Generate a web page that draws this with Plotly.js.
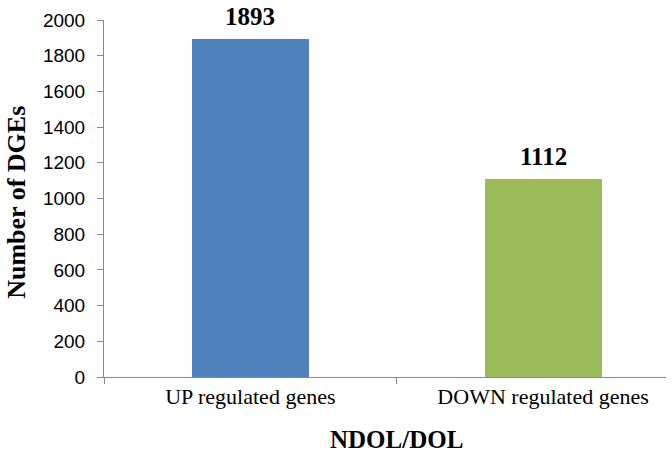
<!DOCTYPE html>
<html>
<head>
<meta charset="utf-8">
<script src="https://cdn.plot.ly/plotly-3.0.1.min.js"></script>
<style>html,body{margin:0;padding:0;background:#fff;}#chart{width:672px;height:455px;}</style>
</head>
<body>
<div id="chart"></div>
<script>
const categories = ["UP regulated genes", "DOWN regulated genes"];
const values = [1893, 1112];
const barColors = ["#4F81BD", "#9BBB59"];
const yTickValues = [0, 200, 400, 600, 800, 1000, 1200, 1400, 1600, 1800, 2000];
const xTitle = "NDOL/DOL";
const yTitle = "Number of DGEs";

const serif = "'Liberation Serif', 'Times New Roman', serif";
const sans = "'Liberation Sans', Arial, sans-serif";
const axisGrey = "#898989";

const trace = {
  type: "bar",
  x: categories,
  y: values,
  width: 0.4,
  marker: {color: barColors, line: {width: 0}},
  hoverinfo: "skip"
};

const valueLabels = categories.map((c, i) => ({
  text: String(values[i]),
  xref: "x", yref: "y", x: c, y: values[i],
  xanchor: "center", yanchor: "bottom", yshift: 7,
  showarrow: false,
  font: {family: serif, size: 25, color: "#000", weight: "bold"}
}));

const layout = {
  width: 672,
  height: 455,
  margin: {l: 104, r: 6, t: 20, b: 78},
  paper_bgcolor: "#fff",
  plot_bgcolor: "#fff",
  showlegend: false,
  bargap: 0,
  xaxis: {
    type: "category",
    range: [-0.5, 1.42],
    tickson: "boundaries",
    ticks: "outside",
    ticklen: 6,
    tickcolor: axisGrey,
    showline: true,
    linecolor: axisGrey,
    linewidth: 1,
    showgrid: false,
    zeroline: false,
    tickfont: {family: serif, size: 22, color: "#000"},
    fixedrange: true
  },
  yaxis: {
    range: [0, 2000],
    tickmode: "array",
    tickvals: yTickValues,
    ticks: "outside",
    ticklen: 6,
    tickcolor: axisGrey,
    showline: true,
    linecolor: axisGrey,
    linewidth: 1,
    showgrid: false,
    zeroline: false,
    ticklabelstandoff: 8,
    tickfont: {family: sans, size: 19, color: "#000"},
    fixedrange: true
  },
  annotations: valueLabels.concat([
    {text: xTitle, xref: "paper", yref: "paper", x: 0.52, y: -0.175, xanchor: "center", yanchor: "middle",
     showarrow: false, font: {family: serif, size: 25, color: "#000", weight: "bold"}},
    {text: yTitle, xref: "paper", yref: "paper", x: -0.157, y: 0.49, xanchor: "center", yanchor: "middle",
     textangle: -90, showarrow: false, font: {family: serif, size: 26, color: "#000", weight: "bold"}}
  ])
};

Plotly.newPlot("chart", [trace], layout, {displayModeBar: false, staticPlot: true});
</script>
</body>
</html>
